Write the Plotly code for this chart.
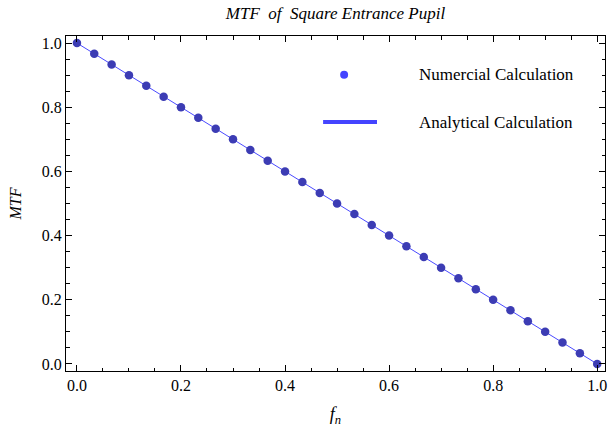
import plotly.graph_objects as go

# Data
freq_num = [0.0, 0.0333, 0.0667, 0.1, 0.1333, 0.1667, 0.2, 0.2333, 0.2667, 0.3,
            0.3333, 0.3667, 0.4, 0.4333, 0.4667, 0.5, 0.5333, 0.5667, 0.6, 0.6333,
            0.6667, 0.7, 0.7333, 0.7667, 0.8, 0.8333, 0.8667, 0.9, 0.9333, 0.9667, 1.0]
mtf_num = [1.0, 0.967, 0.933, 0.9, 0.867, 0.833, 0.8, 0.767, 0.733, 0.7,
           0.667, 0.633, 0.6, 0.567, 0.533, 0.5, 0.467, 0.433, 0.4, 0.367,
           0.333, 0.3, 0.267, 0.233, 0.2, 0.167, 0.133, 0.1, 0.067, 0.033, 0.0]
freq_ana = [0.0, 1.0]
mtf_ana = [1.0, 0.0]
tick_vals = [0.0, 0.2, 0.4, 0.6, 0.8, 1.0]
tick_text = ["0.0", "0.2", "0.4", "0.6", "0.8", "1.0"]
legend_labels = ["Numercial Calculation", "Analytical Calculation"]

FONT = "Liberation Serif"
LINE_COLOR = "#4a4aff"
DOT_COLOR = "#3c3cb4"

fig = go.Figure()
fig.add_trace(go.Scatter(x=freq_ana, y=mtf_ana, mode="lines",
                         line=dict(color=LINE_COLOR, width=1), showlegend=False))
fig.add_trace(go.Scatter(x=freq_num, y=mtf_num, mode="markers",
                         marker=dict(color=DOT_COLOR, size=8.5, line=dict(width=0)),
                         showlegend=False))

axis_common = dict(
    showgrid=False, zeroline=False, showline=True, linecolor="black", linewidth=1,
    mirror="allticks", ticks="inside", ticklen=6, tickcolor="black", tickwidth=1,
    tickvals=tick_vals, ticktext=tick_text, ticklabeloverflow="allow",
    tickfont=dict(family=FONT, size=16, color="black"),
    minor=dict(ticks="inside", ticklen=3.5, tickcolor="black", dtick=0.05, tick0=0, showgrid=False),
)
fig.update_xaxes(range=[-0.021, 1.015], **axis_common,
                 title=dict(text="<i>f<sub>n</sub></i>", font=dict(family=FONT, size=18, color="black"), standoff=14))
fig.update_yaxes(range=[-0.022, 1.022], **axis_common,
                 title=dict(text="<i>MTF</i>", font=dict(family=FONT, size=16, color="black"), standoff=16))

# Manual legend (pixel-derived paper coords)
fig.add_shape(type="circle", xref="paper", yref="paper",
              x0=0.516 - 0.0074, x1=0.516 + 0.0074, y0=0.884 - 0.0119, y1=0.884 + 0.0119,
              fillcolor="#4444ff", line=dict(width=0))
fig.add_shape(type="line", xref="paper", yref="paper",
              x0=0.477, x1=0.577, y0=0.743, y1=0.743,
              line=dict(color="#4444ff", width=4))
for yy, lab in zip([0.884, 0.743], legend_labels):
    fig.add_annotation(xref="paper", yref="paper", x=0.652, y=yy, text=lab,
                       showarrow=False, xanchor="left", yanchor="middle",
                       font=dict(family=FONT, size=17, color="black"))

fig.update_layout(
    width=608, height=432,
    margin=dict(l=66, r=1, t=36, b=61),
    paper_bgcolor="white", plot_bgcolor="white",
    title=dict(text="<i>MTF  of  Square Entrance Pupil</i>", x=0.5, xref="paper",
               y=1 - 13 / 432, yanchor="middle",
               font=dict(family=FONT, size=17, color="black")),
    showlegend=False,
)

fig.write_html("out.html", config={"displayModeBar": False},
               post_script="document.body.style.margin='0';document.body.style.overflow='hidden';")
